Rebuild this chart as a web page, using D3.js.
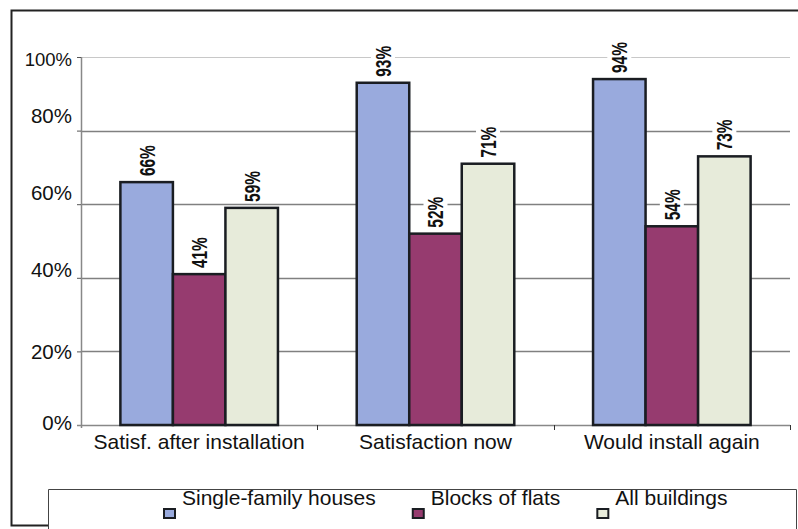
<!DOCTYPE html>
<html>
<head>
<meta charset="utf-8">
<script src="https://cdn.jsdelivr.net/npm/d3@7"></script>
<style>
  html, body { margin: 0; padding: 0; background: #fff; }
  svg { display: block; }
  text { font-family: "Liberation Sans", Arial, sans-serif; fill: #111; }
</style>
</head>
<body>
<svg id="chart" width="798" height="529"></svg>
<script>
// Survey results: share of satisfied respondents by building type
const categories = ["Satisf. after installation", "Satisfaction now", "Would install again"];
const seriesNames = ["Single-family houses", "Blocks of flats", "All buildings"];
const singleFamily = [66, 93, 94];
const blocksOfFlats = [41, 52, 54];
const allBuildings = [59, 71, 73];
const yTicks = [0, 20, 40, 60, 80, 100];

const seriesValues = [singleFamily, blocksOfFlats, allBuildings];
const colors = ["#99AADD", "#963B6F", "#E7EBDA"];

const svg = d3.select("#chart");
const W = 798, H = 529;
const plot = { left: 81, right: 790, top: 57, bottom: 425 };

// outer frame (partially visible)
svg.append("path")
  .attr("d", `M${W},10.5 H11.5 V525.5 H48`)
  .attr("fill", "none").attr("stroke", "#222").attr("stroke-width", 2);

const x0 = d3.scaleBand().domain(categories).range([plot.left, plot.right]).padding(0);
const x1 = d3.scaleBand().domain(seriesNames).range([0, x0.bandwidth()])
  .paddingInner(0).paddingOuter(0.75);
const y = d3.scaleLinear().domain([0, 100]).range([plot.bottom, plot.top]);

// gridlines
svg.append("g").selectAll("line")
  .data(yTicks.filter(t => t > 0))
  .join("line")
  .attr("x1", plot.left).attr("x2", plot.right)
  .attr("y1", d => Math.round(y(d)) + 0.5).attr("y2", d => Math.round(y(d)) + 0.5)
  .attr("stroke", d => d === 100 ? "#c8c8c8" : "#808080")
  .attr("stroke-width", d => d === 100 ? 1 : 1.5);

// y axis
const labelNudge = { 0: -3, 20: 0, 40: -8, 60: -12, 80: -15, 100: 1 };
const yAxis = svg.append("g")
  .attr("transform", `translate(${plot.left},0)`)
  .call(d3.axisLeft(y).tickValues(yTicks).tickSize(4).tickSizeOuter(0)
    .tickFormat(d => d + "%"));
yAxis.select(".domain").attr("stroke", "#888").attr("stroke-width", 1.5)
  .attr("d", `M0.5,${plot.top}V${plot.bottom + 3}`);
yAxis.selectAll(".tick line").attr("stroke", "#555");
yAxis.selectAll(".tick text")
  .attr("x", -9)
  .attr("dy", d => (labelNudge[d] + 7) + "px")
  .style("font-size", d => d === 100 ? "18.5px" : "20.5px")
  .style("font-family", '"Liberation Sans", Arial, sans-serif')
  .attr("fill", "#111");

// category axis
const xAxis = svg.append("g");
xAxis.append("line")
  .attr("x1", plot.left - 4).attr("x2", plot.right)
  .attr("y1", plot.bottom + 0.5).attr("y2", plot.bottom + 0.5)
  .attr("stroke", "#888").attr("stroke-width", 1.5);
const boundaries = categories.map(c => x0(c)).concat([plot.right]);
xAxis.selectAll("line.ctick")
  .data(boundaries.slice(1))
  .join("line").attr("class", "ctick")
  .attr("x1", d => Math.round(d) + 0.5).attr("x2", d => Math.round(d) + 0.5)
  .attr("y1", plot.bottom).attr("y2", plot.bottom + 5)
  .attr("stroke", "#333");
xAxis.selectAll("text")
  .data(categories)
  .join("text")
  .attr("x", d => x0(d) + x0.bandwidth() / 2)
  .attr("y", plot.bottom + 24)
  .attr("text-anchor", "middle")
  .style("font-size", "21px")
  .text(d => d);

// bars
const barData = [];
categories.forEach((c, ci) => {
  seriesNames.forEach((s, si) => {
    barData.push({ category: c, series: s, si, value: seriesValues[si][ci] });
  });
});

svg.append("g").selectAll("rect")
  .data(barData)
  .join("rect")
  .attr("x", d => x0(d.category) + x1(d.series))
  .attr("y", d => y(d.value))
  .attr("width", x1.bandwidth())
  .attr("height", d => y(0) - y(d.value))
  .attr("fill", d => colors[d.si])
  .attr("stroke", "#1a1d22")
  .attr("stroke-width", 2.5);

// value labels (vertical, on white backing)
const labels = svg.append("g").selectAll("g")
  .data(barData)
  .join("g")
  .attr("transform", d =>
    `translate(${x0(d.category) + x1(d.series) + x1.bandwidth() / 2},${y(d.value) - 6}) rotate(-90)`);
labels.append("rect")
  .attr("x", -1).attr("y", -12).attr("width", 33).attr("height", 24)
  .attr("fill", "#fff");
labels.append("text")
  .attr("x", 0).attr("y", 0)
  .attr("dy", "0.36em")
  .attr("textLength", 31)
  .attr("lengthAdjust", "spacingAndGlyphs")
  .style("font-size", "22px")
  .style("font-weight", "600")
  .text(d => d.value + "%");

// legend
const legend = svg.append("g");
legend.append("path")
  .attr("d", `M48.5,${H} V489.5 H796.5 V${H}`)
  .attr("fill", "none").attr("stroke", "#444").attr("stroke-width", 1);
let lx = 164;
seriesNames.forEach((s, i) => {
  legend.append("rect")
    .attr("x", lx).attr("y", 509).attr("width", 11).attr("height", 9)
    .attr("fill", colors[i]).attr("stroke", "#1a1d22").attr("stroke-width", 2);
  const t = legend.append("text")
    .attr("x", lx + 18).attr("y", 505)
    .style("font-size", "21px")
    .text(s);
  lx = lx + 18 + t.node().getComputedTextLength() + 37;
});
</script>
</body>
</html>
